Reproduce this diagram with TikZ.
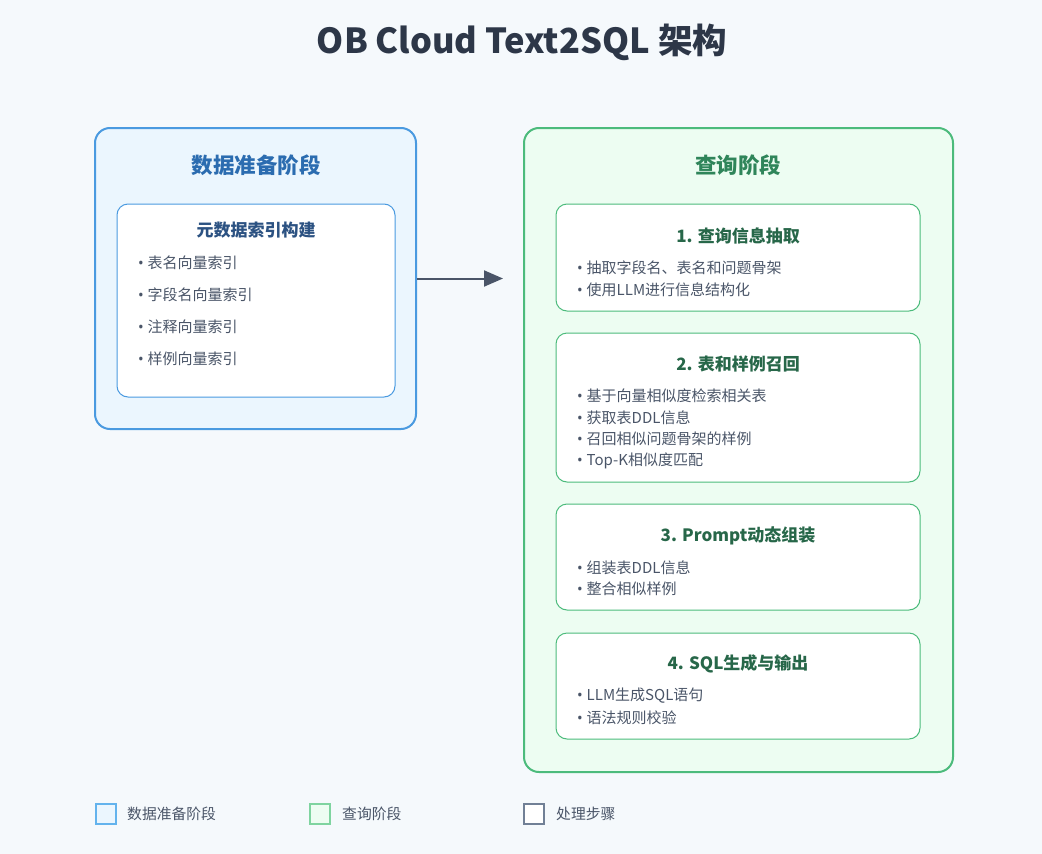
\documentclass[tikz,border=0pt]{standalone}
\usepackage{fontspec}
\setmainfont{Noto Sans CJK SC}
\newfontfamily\latinf{Noto Sans}
\usetikzlibrary{arrows.meta}
\definecolor{bgc}{HTML}{F5F9FC}
\definecolor{titlec}{HTML}{2D3748}
\definecolor{bluefill}{HTML}{EBF6FE}
\definecolor{bluestroke}{HTML}{4A9AE0}
\definecolor{bluetitle}{HTML}{2B6CB0}
\definecolor{bluesub}{HTML}{2C5282}
\definecolor{greenfill}{HTML}{EDFDF2}
\definecolor{greenstroke}{HTML}{4CBB7C}
\definecolor{greentitle}{HTML}{2F855A}
\definecolor{greensub}{HTML}{276749}
\definecolor{textc}{HTML}{4A5568}
\definecolor{arrowc}{HTML}{4A5568}
\definecolor{legblue}{HTML}{63B3ED}
\definecolor{leggreen}{HTML}{7FD4A0}
\definecolor{leggray}{HTML}{718096}
\newcommand{\bul}{{\latinf •\ }}
\tikzset{
  outerbox/.style={draw, line width=2pt, rounded corners=15pt, inner sep=0pt},
  innerbox/.style={draw, fill=white, line width=1pt, rounded corners=11pt, inner sep=0pt},
  phasetitle/.style={font=\fontsize{21.5}{24}\selectfont\bfseries, inner sep=0pt},
  steptitle/.style={font=\fontsize{17}{20}\selectfont\bfseries, inner sep=0pt},
  bullet/.style={font=\fontsize{15}{18}\selectfont, text=textc, anchor=west, inner sep=0pt},
  legbox/.style={draw, line width=1.5pt, minimum width=20pt, minimum height=20pt, inner sep=0pt},
  legtext/.style={font=\fontsize{14.8}{18}\selectfont, text=textc, anchor=west, inner sep=0pt},
}
\begin{document}
\begin{tikzpicture}[x=1pt,y=-1pt]
\fill[bgc] (0,0) rectangle (1042,854);
\useasboundingbox (0,0) rectangle (1042,854);
% title
\node[font=\fontsize{34.5}{40}\selectfont\bfseries, text=titlec, inner sep=0pt] (title) at (522,42) {OB Cloud Text2SQL 架构};
% left phase
\node[outerbox, draw=bluestroke, fill=bluefill, minimum width=321pt, minimum height=301pt] (prep) at (255.5,278.5) {};
\node[phasetitle, text=bluetitle] (preptitle) at (256,165) {数据准备阶段};
\node[innerbox, draw=bluestroke, minimum width=278pt, minimum height=193pt] (meta) at (256,300.5) {};
\node[steptitle, text=bluesub] (metatitle) at (256,230) {元数据索引构建};
\node[bullet] (m1) at (138,263) {\bul 表名向量索引};
\node[bullet] (m2) at (138,295) {\bul 字段名向量索引};
\node[bullet] (m3) at (138,327) {\bul 注释向量索引};
\node[bullet] (m4) at (138,359) {\bul 样例向量索引};
% arrow
\coordinate (arrend) at (503,278.5);
\draw[arrowc, line width=2pt, -{Triangle[length=19pt,width=16pt]}] (prep.east) -- (arrend);
% right phase
\node[outerbox, draw=greenstroke, fill=greenfill, minimum width=429pt, minimum height=644pt] (query) at (738.5,450) {};
\node[phasetitle, text=greentitle] (querytitle) at (738,165) {查询阶段};
% step 1
\node[innerbox, draw=greenstroke, minimum width=364pt, minimum height=107pt] (s1) at (738,257.5) {};
\node[steptitle, text=greensub] (s1t) at (738,236) {1. 查询信息抽取};
\node[bullet] (s1a) at (577,268) {\bul 抽取字段名、表名和问题骨架};
\node[bullet] (s1b) at (577,290) {\bul 使用LLM进行信息结构化};
% step 2
\node[innerbox, draw=greenstroke, minimum width=364pt, minimum height=149pt] (s2) at (738,407.5) {};
\node[steptitle, text=greensub] (s2t) at (738,364) {2. 表和样例召回};
\node[bullet] (s2a) at (577,396) {\bul 基于向量相似度检索相关表};
\node[bullet] (s2b) at (577,418) {\bul 获取表DDL信息};
\node[bullet] (s2c) at (577,439) {\bul 召回相似问题骨架的样例};
\node[bullet] (s2d) at (577,461) {\bul Top-K相似度匹配};
% step 3
\node[innerbox, draw=greenstroke, minimum width=364pt, minimum height=106pt] (s3) at (738,557) {};
\node[steptitle, text=greensub] (s3t) at (738,536) {3. Prompt动态组装};
\node[bullet] (s3a) at (577,568) {\bul 组装表DDL信息};
\node[bullet] (s3b) at (577,589) {\bul 整合相似样例};
% step 4
\node[innerbox, draw=greenstroke, minimum width=364pt, minimum height=106pt] (s4) at (738,686) {};
\node[steptitle, text=greensub] (s4t) at (738,664) {4. SQL生成与输出};
\node[bullet] (s4a) at (577,696) {\bul LLM生成SQL语句};
\node[bullet] (s4b) at (577,718) {\bul 语法规则校验};
% legend
\node[legbox, draw=legblue, fill=bluefill] (lg1) at (106,814) {};
\node[legtext] (lg1t) at (127,814) {数据准备阶段};
\node[legbox, draw=leggreen, fill=greenfill] (lg2) at (320,814) {};
\node[legtext] (lg2t) at (342,814) {查询阶段};
\node[legbox, draw=leggray, fill=white] (lg3) at (534,814) {};
\node[legtext] (lg3t) at (556,814) {处理步骤};
\end{tikzpicture}
\end{document}
